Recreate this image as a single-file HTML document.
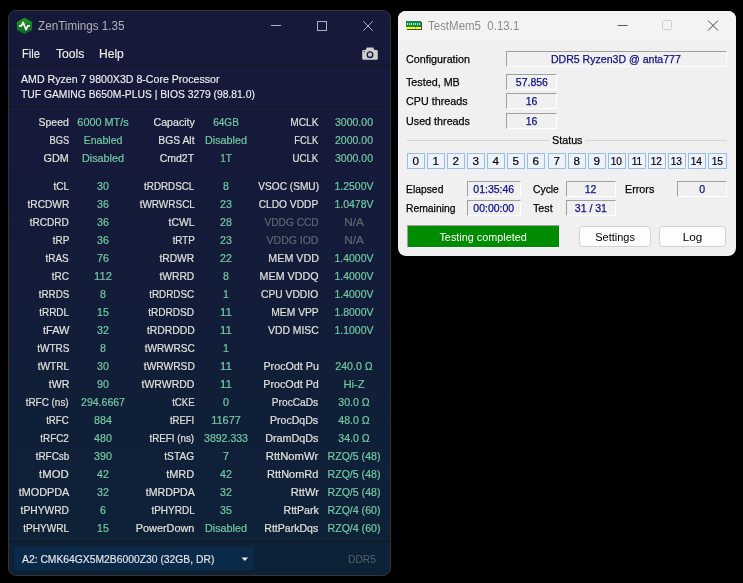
<!DOCTYPE html>
<html lang="en">
<head>
<meta charset="utf-8">
<title>ZenTimings 1.35 / TestMem5 0.13.1</title>
<style>
html,body{margin:0;padding:0;background:#000;}
body{width:743px;height:583px;position:relative;overflow:hidden;font-family:"Liberation Sans",sans-serif;}
#zt{position:absolute;left:8px;top:10px;width:381px;height:564px;border:1px solid #343434;border-radius:8px;overflow:hidden;
 background:linear-gradient(180deg,#16193a 0%,#16193a 17%,#0d2237 100%);color:#e6e6e6;font-size:12px;}
#zt .title{transform:scaleX(0.9733);transform-origin:0 50%;position:absolute;left:29.2px;top:5px;height:20px;line-height:20px;font-size:12px;color:#b2b2b4;white-space:nowrap;}
#zt .menu{-webkit-text-stroke:0.15px #ecece6;transform-origin:0 50%;position:absolute;top:33px;height:20px;line-height:20px;font-size:12px;color:#ecece6;white-space:nowrap;}
#zt .sep{position:absolute;left:0;width:381px;height:1px;background:#13141c;}
#zt .info{-webkit-text-stroke:0.15px #f0f0f0;transform-origin:0 50%;position:absolute;left:12px;white-space:nowrap;font-size:11px;color:#f0f0f0;height:16px;line-height:16px;}
.r{position:absolute;left:0;width:381px;height:18px;line-height:18px;font-size:11px;white-space:nowrap;}
.r .l{-webkit-text-stroke:0.2px #e0e0da;position:absolute;top:0;text-align:right;color:#e0e0da;transform-origin:100% 50%;}
.r .v{-webkit-text-stroke:0.2px #72c8a2;position:absolute;top:0;width:80px;text-align:center;color:#72c8a2;transform-origin:50% 50%;}
.r .dim{color:#5f6670;-webkit-text-stroke-color:#5f6670;}
#combo{position:absolute;left:5px;top:536px;width:240px;height:23px;border-radius:3px;background:#0b2a4a;}
#combo span{-webkit-text-stroke:0.15px #e6e6e6;transform:scaleX(0.9392);transform-origin:0 50%;position:absolute;left:7.5px;top:0;line-height:25px;font-size:11px;color:#e6e6e6;white-space:nowrap;}
#ddr{transform:scaleX(0.9331);transform-origin:100% 50%;position:absolute;right:14.5px;top:537px;line-height:23px;font-size:11px;color:#54616c;}
#tm{position:absolute;left:398px;top:11px;width:338px;height:245px;border-radius:8px;overflow:hidden;background:#f0f0f0;color:#000;font-size:12px;}
#tm .tb{position:absolute;left:0;top:0;width:338px;height:30px;background:#f3f3f3;}
#tm .title{transform:scaleX(.957);transform-origin:0 50%;position:absolute;left:30px;top:5px;line-height:20px;font-size:12px;color:#8c8c8c;white-space:pre;}
.lb{transform:scaleX(.92);transform-origin:0 50%;position:absolute;left:7.8px;height:16px;line-height:16px;font-size:11.7px;white-space:nowrap;color:#000;-webkit-text-stroke:0.25px #000;}
.bx{position:absolute;height:14px;line-height:14px;font-size:11.7px;text-align:center;color:#0e0e84;-webkit-text-stroke:0.25px #0e0e84;white-space:nowrap;
 border-top:1px solid #a0a0a0;border-left:1px solid #a0a0a0;border-bottom:1px solid #fff;border-right:1px solid #fff;box-sizing:content-box;}
.bx span{display:inline-block;transform:scaleX(.9);transform-origin:50% 50%;}
.c{-webkit-text-stroke:0.2px #000;padding-right:1px;position:absolute;top:142px;width:15px;height:14px;line-height:14px;border:1px solid #98bcf0;background:#edf3fd;font-size:11.7px;text-align:center;color:#000;letter-spacing:-0.3px;}
.c b{font-weight:normal;display:inline-block;transform:scaleX(.87);}
.btn{position:absolute;top:215px;height:19px;line-height:19px;border:1px solid #d2d2d2;border-radius:4px;background:#fdfdfd;text-align:center;font-size:11.7px;color:#000;}
</style>
</head>
<body>
<div id="zt">
  <svg style="position:absolute;left:7px;top:6px" width="18" height="18" viewBox="0 0 18 18">
    <defs><linearGradient id="g1" x1="0" y1="0" x2="0" y2="1"><stop offset="0" stop-color="#1f9c1c"/><stop offset="1" stop-color="#0f622a"/></linearGradient></defs>
    <polygon points="8.5,0.8 16.1,5 16.1,13.100 8.5,17.050 0.9,13.100 0.9,5" fill="url(#g1)"/>
    <polyline points="3.100,8.900 5.500,8.900 7.100,5.300 10,12.600 11.800,8.800 13.900,8.800" fill="none" stroke="#fff" stroke-width="1.650" stroke-linejoin="round"/>
  </svg>
  <div class="title">ZenTimings 1.35</div>
  <svg style="position:absolute;left:262px;top:10px" width="112" height="12" viewBox="0 0 112 12">
    <path d="M0 4.500H10" stroke="#b4b4b8" stroke-width="1" fill="none"/>
    <rect x="46.5" y="0.5" width="9" height="9" fill="none" stroke="#b4b4b8" stroke-width="1"/>
    <path d="M92.3 0.300L101.700 9.700M101.700 0.300L92.3 9.700" stroke="#b4b4b8" stroke-width="1" fill="none"/>
  </svg>
  <div class="menu" style="left:13px;transform:scaleX(0.9285)">File</div>
  <div class="menu" style="left:47px;transform:scaleX(1.0123)">Tools</div>
  <div class="menu" style="left:90px;transform:scaleX(1.0033)">Help</div>
  <svg style="position:absolute;left:353px;top:36px" width="16" height="13" viewBox="0 0 16 13">
    <path d="M1.600 3 H3.600 L4.800 0.400 H11.200 L12.400 3 H14.400 A1.400 1.400 0 0 1 15.800 4.400 V11.400 A1.400 1.400 0 0 1 14.400 12.800 H1.600 A1.400 1.400 0 0 1 0.200 11.400 V4.400 A1.400 1.400 0 0 1 1.600 3 Z" fill="#cfcfcf"/>
    <circle cx="8" cy="7.700" r="3.500" fill="#1a1d3c"/>
    <circle cx="8" cy="7.700" r="2.100" fill="#c8c8d4"/>
    <circle cx="2.200" cy="4.700" r="0.600" fill="#1a1d3c"/>
  </svg>
  <div class="sep" style="top:54px"></div>
  <div class="info" style="top:59.5px;transform:scaleX(0.9632)">AMD Ryzen 7 9800X3D 8-Core Processor</div>
  <div class="info" style="top:74.5px;transform:scaleX(0.9385)">TUF GAMING B650M-PLUS | BIOS 3279 (98.81.0)</div>
  <div class="sep" style="top:95px"></div>
<div class="r" style="top:102px"><span class="l" style="right:321px;transform:scaleX(0.9524)">Speed</span><span class="v" style="left:54px;transform:scaleX(0.9877)">6000 MT/s</span><span class="l" style="right:195.5px;transform:scaleX(0.9639)">Capacity</span><span class="v" style="left:177px;transform:scaleX(0.9143)">64GB</span><span class="l" style="right:71.5px;transform:scaleX(0.9244)">MCLK</span><span class="v" style="left:304.5px;transform:scaleX(0.9547)">3000.00</span></div>
<div class="r" style="top:120px"><span class="l" style="right:321px;transform:scaleX(0.8481)">BGS</span><span class="v" style="left:54px;transform:scaleX(0.9596)">Enabled</span><span class="l" style="right:195.5px;transform:scaleX(0.9399)">BGS Alt</span><span class="v" style="left:177px;transform:scaleX(0.9813)">Disabled</span><span class="l" style="right:71.5px;transform:scaleX(0.8445)">FCLK</span><span class="v" style="left:304.5px;transform:scaleX(0.9547)">2000.00</span></div>
<div class="r" style="top:138px"><span class="l" style="right:321px;transform:scaleX(0.9799)">GDM</span><span class="v" style="left:54px;transform:scaleX(0.9813)">Disabled</span><span class="l" style="right:195.5px;transform:scaleX(0.9547)">Cmd2T</span><span class="v" style="left:177px;transform:scaleX(0.9109)">1T</span><span class="l" style="right:71.5px;transform:scaleX(0.8838)">UCLK</span><span class="v" style="left:304.5px;transform:scaleX(0.9547)">3000.00</span></div>
<div class="r" style="top:166px"><span class="l" style="right:321px;transform:scaleX(0.9181)">tCL</span><span class="v" style="left:54px;transform:scaleX(0.9693)">30</span><span class="l" style="right:195.5px;transform:scaleX(0.892)">tRDRDSCL</span><span class="v" style="left:177px;transform:scaleX(0.9693)">8</span><span class="l" style="right:71.5px;transform:scaleX(0.9198)">VSOC (SMU)</span><span class="v" style="left:304.5px;transform:scaleX(0.9484)">1.2500V</span></div>
<div class="r" style="top:184px"><span class="l" style="right:321px;transform:scaleX(0.9221)">tRCDWR</span><span class="v" style="left:54px;transform:scaleX(0.9693)">36</span><span class="l" style="right:195.5px;transform:scaleX(0.9074)">tWRWRSCL</span><span class="v" style="left:177px;transform:scaleX(0.9693)">23</span><span class="l" style="right:71.5px;transform:scaleX(0.9262)">CLDO VDDP</span><span class="v" style="left:304.5px;transform:scaleX(0.9484)">1.0478V</span></div>
<div class="r" style="top:202px"><span class="l" style="right:321px;transform:scaleX(0.9149)">tRCDRD</span><span class="v" style="left:54px;transform:scaleX(0.9693)">36</span><span class="l" style="right:195.5px;transform:scaleX(0.9451)">tCWL</span><span class="v" style="left:177px;transform:scaleX(0.9693)">28</span><span class="l dim" style="right:71.5px;transform:scaleX(0.9234)">VDDG CCD</span><span class="v dim" style="left:304.5px;transform:scaleX(1.0694)">N/A</span></div>
<div class="r" style="top:220px"><span class="l" style="right:321px;transform:scaleX(0.8981)">tRP</span><span class="v" style="left:54px;transform:scaleX(0.9693)">36</span><span class="l" style="right:195.5px;transform:scaleX(0.8943)">tRTP</span><span class="v" style="left:177px;transform:scaleX(0.9693)">23</span><span class="l dim" style="right:71.5px;transform:scaleX(0.9518)">VDDG IOD</span><span class="v dim" style="left:304.5px;transform:scaleX(1.0694)">N/A</span></div>
<div class="r" style="top:238px"><span class="l" style="right:321px;transform:scaleX(0.9054)">tRAS</span><span class="v" style="left:54px;transform:scaleX(0.9693)">76</span><span class="l" style="right:195.5px;transform:scaleX(0.9359)">tRDWR</span><span class="v" style="left:177px;transform:scaleX(0.9693)">22</span><span class="l" style="right:71.5px;transform:scaleX(0.9741)">MEM VDD</span><span class="v" style="left:304.5px;transform:scaleX(0.9484)">1.4000V</span></div>
<div class="r" style="top:256px"><span class="l" style="right:321px;transform:scaleX(0.9036)">tRC</span><span class="v" style="left:54px;transform:scaleX(1.0144)">112</span><span class="l" style="right:195.5px;transform:scaleX(0.9359)">tWRRD</span><span class="v" style="left:177px;transform:scaleX(0.9693)">8</span><span class="l" style="right:71.5px;transform:scaleX(0.9735)">MEM VDDQ</span><span class="v" style="left:304.5px;transform:scaleX(0.9484)">1.4000V</span></div>
<div class="r" style="top:274px"><span class="l" style="right:321px;transform:scaleX(0.8897)">tRRDS</span><span class="v" style="left:54px;transform:scaleX(0.9693)">8</span><span class="l" style="right:195.5px;transform:scaleX(0.8975)">tRDRDSC</span><span class="v" style="left:177px;transform:scaleX(0.9693)">1</span><span class="l" style="right:71.5px;transform:scaleX(0.9331)">CPU VDDIO</span><span class="v" style="left:304.5px;transform:scaleX(0.9484)">1.4000V</span></div>
<div class="r" style="top:292px"><span class="l" style="right:321px;transform:scaleX(0.9024)">tRRDL</span><span class="v" style="left:54px;transform:scaleX(0.9693)">15</span><span class="l" style="right:195.5px;transform:scaleX(0.9156)">tRDRDSD</span><span class="v" style="left:177px;transform:scaleX(1.0386)">11</span><span class="l" style="right:71.5px;transform:scaleX(0.9361)">MEM VPP</span><span class="v" style="left:304.5px;transform:scaleX(0.9484)">1.8000V</span></div>
<div class="r" style="top:310px"><span class="l" style="right:321px;transform:scaleX(0.9996)">tFAW</span><span class="v" style="left:54px;transform:scaleX(0.9693)">32</span><span class="l" style="right:195.5px;transform:scaleX(0.9416)">tRDRDDD</span><span class="v" style="left:177px;transform:scaleX(1.0386)">11</span><span class="l" style="right:71.5px;transform:scaleX(0.9435)">VDD MISC</span><span class="v" style="left:304.5px;transform:scaleX(0.9484)">1.1000V</span></div>
<div class="r" style="top:328px"><span class="l" style="right:321px;transform:scaleX(0.9083)">tWTRS</span><span class="v" style="left:54px;transform:scaleX(0.9693)">8</span><span class="l" style="right:195.5px;transform:scaleX(0.9142)">tWRWRSC</span><span class="v" style="left:177px;transform:scaleX(0.9693)">1</span></div>
<div class="r" style="top:346px"><span class="l" style="right:321px;transform:scaleX(0.9212)">tWTRL</span><span class="v" style="left:54px;transform:scaleX(0.9693)">30</span><span class="l" style="right:195.5px;transform:scaleX(0.9308)">tWRWRSD</span><span class="v" style="left:177px;transform:scaleX(1.0386)">11</span><span class="l" style="right:71.5px;transform:scaleX(0.9743)">ProcOdt Pu</span><span class="v" style="left:304.5px;transform:scaleX(0.9607)">240.0 Ω</span></div>
<div class="r" style="top:364px"><span class="l" style="right:321px;transform:scaleX(0.9626)">tWR</span><span class="v" style="left:54px;transform:scaleX(0.9693)">90</span><span class="l" style="right:195.5px;transform:scaleX(0.9544)">tWRWRDD</span><span class="v" style="left:177px;transform:scaleX(1.0386)">11</span><span class="l" style="right:71.5px;transform:scaleX(0.9787)">ProcOdt Pd</span><span class="v" style="left:304.5px;transform:scaleX(1.0181)">Hi-Z</span></div>
<div class="r" style="top:382px"><span class="l" style="right:321px;transform:scaleX(0.9027)">tRFC (ns)</span><span class="v" style="left:54px;transform:scaleX(0.9567)">294.6667</span><span class="l" style="right:195.5px;transform:scaleX(0.8759)">tCKE</span><span class="v" style="left:177px;transform:scaleX(0.9693)">0</span><span class="l" style="right:71.5px;transform:scaleX(0.9239)">ProcCaDs</span><span class="v" style="left:304.5px;transform:scaleX(0.9591)">30.0 Ω</span></div>
<div class="r" style="top:400px"><span class="l" style="right:321px;transform:scaleX(0.8763)">tRFC</span><span class="v" style="left:54px;transform:scaleX(0.9693)">884</span><span class="l" style="right:195.5px;transform:scaleX(0.8598)">tREFI</span><span class="v" style="left:177px;transform:scaleX(0.9959)">11677</span><span class="l" style="right:71.5px;transform:scaleX(0.9594)">ProcDqDs</span><span class="v" style="left:304.5px;transform:scaleX(0.9591)">48.0 Ω</span></div>
<div class="r" style="top:418px"><span class="l" style="right:321px;transform:scaleX(0.8942)">tRFC2</span><span class="v" style="left:54px;transform:scaleX(0.9693)">480</span><span class="l" style="right:195.5px;transform:scaleX(0.8922)">tREFI (ns)</span><span class="v" style="left:177px;transform:scaleX(0.9567)">3892.333</span><span class="l" style="right:71.5px;transform:scaleX(0.9775)">DramDqDs</span><span class="v" style="left:304.5px;transform:scaleX(0.9591)">34.0 Ω</span></div>
<div class="r" style="top:436px"><span class="l" style="right:321px;transform:scaleX(0.9019)">tRFCsb</span><span class="v" style="left:54px;transform:scaleX(0.9693)">390</span><span class="l" style="right:195.5px;transform:scaleX(0.9314)">tSTAG</span><span class="v" style="left:177px;transform:scaleX(0.9693)">7</span><span class="l" style="right:71.5px;transform:scaleX(1.0224)">RttNomWr</span><span class="v" style="left:304.5px;transform:scaleX(0.9611)">RZQ/5 (48)</span></div>
<div class="r" style="top:454px"><span class="l" style="right:321px;transform:scaleX(1.0312)">tMOD</span><span class="v" style="left:54px;transform:scaleX(0.9693)">42</span><span class="l" style="right:195.5px;transform:scaleX(0.9927)">tMRD</span><span class="v" style="left:177px;transform:scaleX(0.9693)">42</span><span class="l" style="right:71.5px;transform:scaleX(0.9976)">RttNomRd</span><span class="v" style="left:304.5px;transform:scaleX(0.9611)">RZQ/5 (48)</span></div>
<div class="r" style="top:472px"><span class="l" style="right:321px;transform:scaleX(0.9855)">tMODPDA</span><span class="v" style="left:54px;transform:scaleX(0.9693)">32</span><span class="l" style="right:195.5px;transform:scaleX(0.9636)">tMRDPDA</span><span class="v" style="left:177px;transform:scaleX(0.9693)">32</span><span class="l" style="right:71.5px;transform:scaleX(1.0083)">RttWr</span><span class="v" style="left:304.5px;transform:scaleX(0.9611)">RZQ/5 (48)</span></div>
<div class="r" style="top:490px"><span class="l" style="right:321px;transform:scaleX(0.9308)">tPHYWRD</span><span class="v" style="left:54px;transform:scaleX(0.9693)">6</span><span class="l" style="right:195.5px;transform:scaleX(0.9072)">tPHYRDL</span><span class="v" style="left:177px;transform:scaleX(0.9693)">35</span><span class="l" style="right:71.5px;transform:scaleX(0.9566)">RttPark</span><span class="v" style="left:304.5px;transform:scaleX(0.9611)">RZQ/4 (60)</span></div>
<div class="r" style="top:508px"><span class="l" style="right:321px;transform:scaleX(0.914)">tPHYWRL</span><span class="v" style="left:54px;transform:scaleX(0.9693)">15</span><span class="l" style="right:195.5px;transform:scaleX(0.9861)">PowerDown</span><span class="v" style="left:177px;transform:scaleX(0.9813)">Disabled</span><span class="l" style="right:71.5px;transform:scaleX(0.9591)">RttParkDqs</span><span class="v" style="left:304.5px;transform:scaleX(0.9611)">RZQ/4 (60)</span></div>
  <div class="sep" style="top:530px"></div>
  <div id="combo"><span>A2: CMK64GX5M2B6000Z30 (32GB, DR)</span>
    <svg style="position:absolute;left:227px;top:10px" width="8" height="5" viewBox="0 0 8 5"><path d="M0.400 0.600H7.200L3.800 4Z" fill="#e6e6e6"/></svg>
  </div>
  <div id="ddr">DDR5</div>
</div>

<div id="tm">
  <div class="tb"></div>
  <svg style="position:absolute;left:8px;top:10px" width="17" height="10" viewBox="0 0 17 10" shape-rendering="crispEdges">
    <rect x="1" y="1" width="15" height="8" fill="#45455a"/>
    <rect x="0" y="0" width="15" height="6" fill="#0b8c4b"/>
    <rect x="0" y="6" width="9" height="2" fill="#ffff00"/><rect x="10" y="6" width="5" height="2" fill="#ffff00"/>
    <rect x="9" y="6" width="1" height="2" fill="#b4b49a"/>
    <g fill="#c4e8cc"><rect x="1" y="2" width="1" height="2"/><rect x="3" y="2" width="1" height="2"/><rect x="5" y="2" width="1" height="2"/><rect x="7" y="2" width="1" height="2"/><rect x="9" y="2" width="1" height="2"/><rect x="11" y="2" width="1" height="2"/><rect x="13" y="2" width="1" height="2"/></g>
  </svg>
  <div class="title">TestMem5  0.13.1</div>
  <svg style="position:absolute;left:219px;top:9px" width="112" height="12" viewBox="0 0 112 12">
    <path d="M0.5 5.5H10.5" stroke="#5a5a5a" stroke-width="1" fill="none"/>
    <rect x="45.5" y="0.5" width="9" height="9" rx="1" fill="none" stroke="#cfcfcf" stroke-width="1"/>
    <path d="M91 0.5L101 10.5M101 0.5L91 10.5" stroke="#444" stroke-width="1" fill="none"/>
  </svg>

  <div class="lb" style="top:40px">Configuration</div>
  <div class="bx" style="left:108px;top:40px;width:219px"><span style="transform:scaleX(.904);position:relative;left:-1px">DDR5 Ryzen3D @ anta777</span></div>
  <div class="lb" style="top:63px">Tested, MB</div>
  <div class="bx" style="left:108px;top:63px;width:49px"><span>57.856</span></div>
  <div class="lb" style="top:82px">CPU threads</div>
  <div class="bx" style="left:108px;top:82px;width:49px"><span>16</span></div>
  <div class="lb" style="top:102px">Used threads</div>
  <div class="bx" style="left:108px;top:102px;width:49px"><span>16</span></div>

  <div style="position:absolute;left:9px;top:129px;width:142px;height:1px;background:#d4d4d4"></div>
  <div style="position:absolute;left:187px;top:129px;width:142px;height:1px;background:#d4d4d4"></div>
  <div class="lb" style="left:154px;top:121px">Status</div>
<span class="c" style="left:9px">0</span><span class="c" style="left:29px">1</span><span class="c" style="left:49px">2</span><span class="c" style="left:69px">3</span><span class="c" style="left:89px">4</span><span class="c" style="left:109px">5</span><span class="c" style="left:129px">6</span><span class="c" style="left:150px">7</span><span class="c" style="left:170px">8</span><span class="c" style="left:190px">9</span><span class="c" style="left:210px"><b>10</b></span><span class="c" style="left:230px"><b>11</b></span><span class="c" style="left:250px"><b>12</b></span><span class="c" style="left:270px"><b>13</b></span><span class="c" style="left:290px"><b>14</b></span><span class="c" style="left:310px;width:16px"><b>15</b></span>
  <div class="lb" style="top:170px;transform:scaleX(.885)">Elapsed</div>
  <div class="bx" style="left:69px;top:170px;width:52px"><span>01:35:46</span></div>
  <div class="lb" style="left:135px;top:170px;transform:scaleX(.885)">Cycle</div>
  <div class="bx" style="left:168px;top:170px;width:48px"><span>12</span></div>
  <div class="lb" style="left:227px;top:170px">Errors</div>
  <div class="bx" style="left:279px;top:170px;width:48px"><span>0</span></div>
  <div class="lb" style="top:189px;transform:scaleX(.885)">Remaining</div>
  <div class="bx" style="left:69px;top:189px;width:52px"><span>00:00:00</span></div>
  <div class="lb" style="left:135px;top:189px">Test</div>
  <div class="bx" style="left:168px;top:189px;width:48px"><span>31 / 31</span></div>

  <div style="position:absolute;left:9px;top:214px;width:151px;height:21px;line-height:22px;background:#008c00;color:#fff;text-align:center;font-size:11.7px;border-top:1px solid #a0a0a0;border-left:1px solid #a0a0a0;border-right:1px solid #fff;border-bottom:1px solid #fff;"><span style="display:inline-block;transform:scaleX(.927)">Testing completed</span></div>
  <div class="btn" style="left:181px;width:70px"><span style="display:inline-block;transform:scaleX(.94)">Settings</span></div>
  <div class="btn" style="left:261px;width:65px">Log</div>
</div>
</body>
</html>
